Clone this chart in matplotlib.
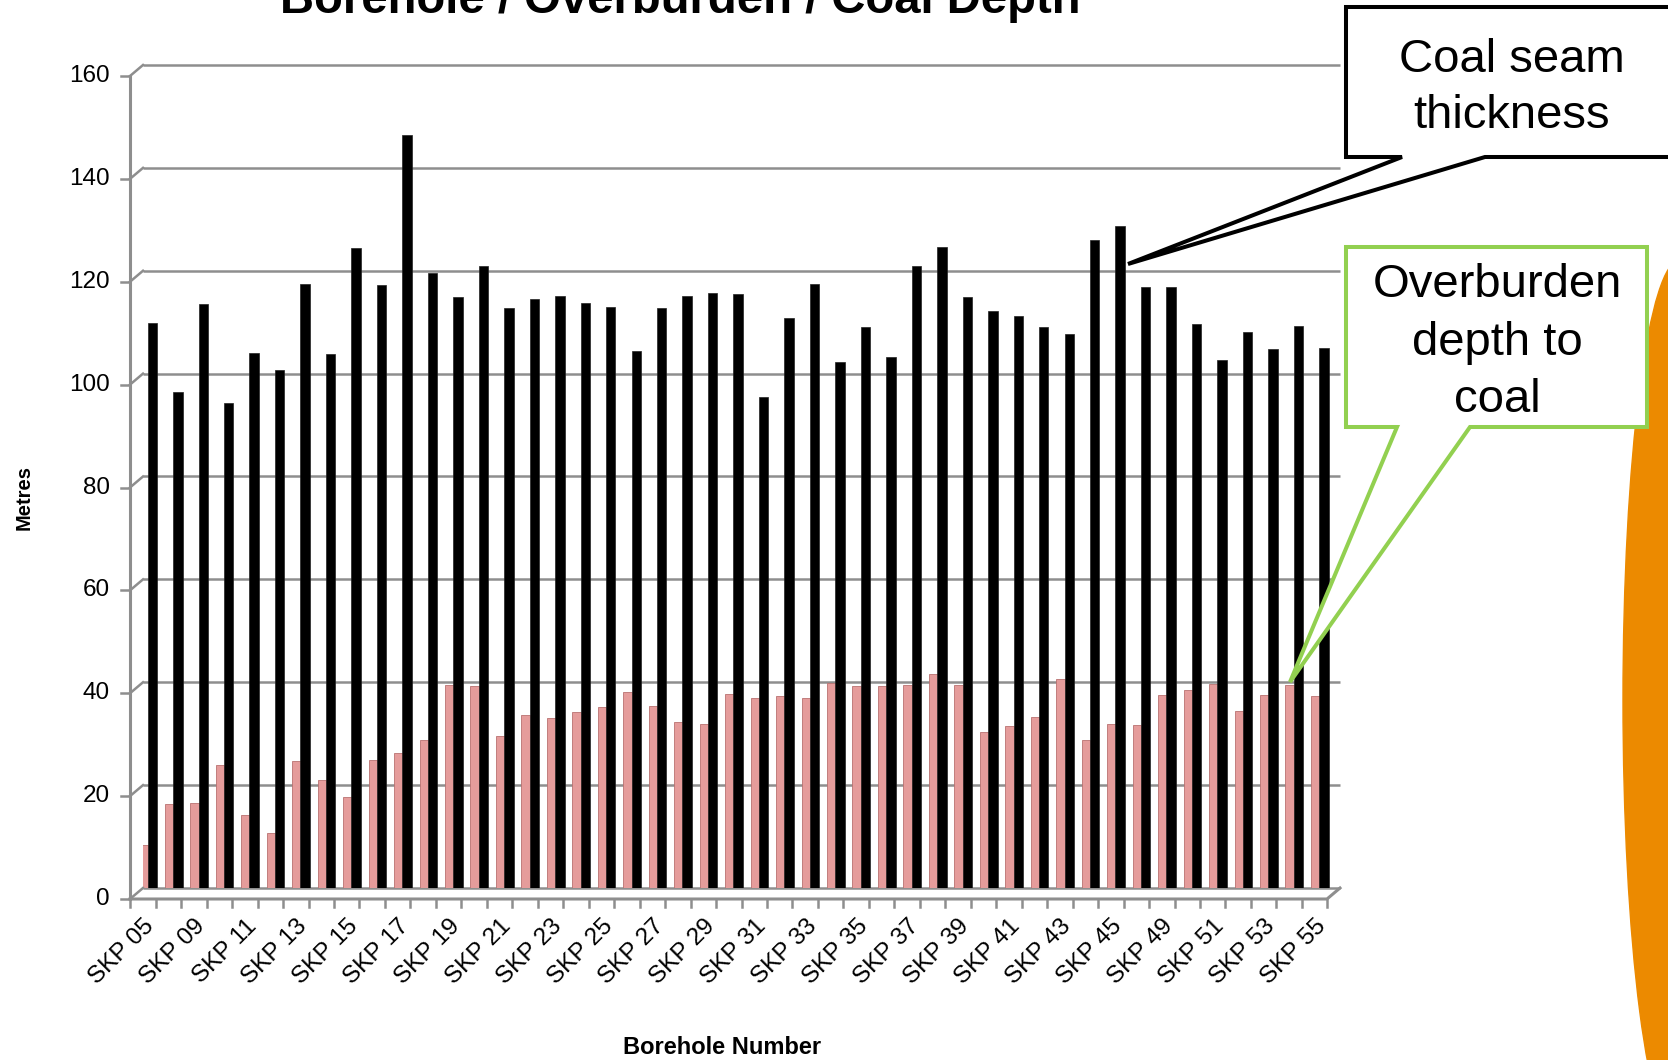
import numpy as np
import matplotlib
matplotlib.use("Agg")
import matplotlib.pyplot as plt
from matplotlib.patches import Polygon, Ellipse

plt.rcParams['font.family'] = ['Liberation Sans', 'DejaVu Sans']

# borehole data (metres)
boreholes = ["SKP 05", "SKP 07", "SKP 09", "SKP 10", "SKP 11", "SKP 12", "SKP 13", "SKP 14",
             "SKP 15", "SKP 16", "SKP 17", "SKP 18", "SKP 19", "SKP 20", "SKP 21", "SKP 22",
             "SKP 23", "SKP 24", "SKP 25", "SKP 26", "SKP 27", "SKP 28", "SKP 29", "SKP 30",
             "SKP 31", "SKP 32", "SKP 33", "SKP 34", "SKP 35", "SKP 36", "SKP 37", "SKP 38",
             "SKP 39", "SKP 40", "SKP 41", "SKP 42", "SKP 43", "SKP 44", "SKP 45", "SKP 47",
             "SKP 49", "SKP 50", "SKP 51", "SKP 52", "SKP 53", "SKP 54", "SKP 55"]

overburden = [8.3, 16.4, 16.6, 23.9, 14.2, 10.6, 24.7, 21.0, 17.7, 24.9,
              26.3, 28.7, 39.4, 39.3, 29.5, 33.7, 33.1, 34.3, 35.2, 38.2,
              35.3, 32.3, 31.9, 37.7, 36.9, 37.4, 36.9, 39.9, 39.3, 39.2,
              39.4, 41.6, 39.4, 30.4, 31.4, 33.3, 40.6, 28.7, 31.8, 31.6,
              37.5, 38.5, 39.7, 34.4, 37.5, 39.4, 37.4]

coal_depth = [109.9, 96.4, 113.6, 94.3, 104.0, 100.8, 117.5, 103.9, 124.5, 117.2,
              146.4, 119.5, 114.9, 120.9, 112.7, 114.5, 115.1, 113.8, 112.9, 104.4,
              112.7, 115.1, 115.6, 115.4, 95.4, 110.8, 117.5, 102.2, 109.1, 103.2,
              120.9, 124.7, 114.8, 112.1, 111.3, 109.0, 107.7, 126.0, 128.7, 116.8,
              116.8, 109.7, 102.6, 108.1, 104.7, 109.2, 104.9]

yticks = list(range(0, 161, 20))

W, H = 1668, 1060
grey = '#8E8E8E'
pink = '#E59C9B'

fig = plt.figure(figsize=(W / 100, H / 100), dpi=100)
ax = fig.add_axes([143 / W, (H - 888) / H, (1340 - 143) / W, (888 - 65) / H])
ax.set_ylim(0, 160)
ax.set_xlim(-0.196, 46.8)
for s in ax.spines.values():
    s.set_visible(False)
ax.set_xticks([])
ax.set_yticks([])

x = np.arange(len(boreholes))
xl = ax.get_xlim()
ax.hlines(yticks, xl[0], xl[1], colors=grey, lw=1.8, clip_on=False, zorder=1)
ax.bar(x - 0.17, overburden, width=0.34, color=pink, edgecolor='#B97170', lw=0.6, zorder=3)
ax.bar(x + 0.17, coal_depth, width=0.37, color='black', edgecolor='#222222', lw=0.5, zorder=3)

# overlay in pixel coordinates (y down) for the front frame, labels and callouts
ov = fig.add_axes([0, 0, 1, 1], zorder=5)
ov.set_xlim(0, W)
ov.set_ylim(H, 0)
ov.axis('off')
ov.patch.set_alpha(0)


def to_px(xv, yv):
    px, py = ax.transData.transform((xv, yv))
    return px, H - py


DX, DY = -13, 11

# front y axis with depth connectors
fx0, fy0 = to_px(xl[0], 0)
fx1, fy1 = to_px(xl[0], 160)
ov.plot([fx0 + DX, fx1 + DX], [fy0 + DY, fy1 + DY], color=grey, lw=2.2)
for v in yticks:
    bx, by = to_px(xl[0], v)
    ov.plot([bx + DX, bx], [by + DY, by], color=grey, lw=1.8)
    ov.plot([bx + DX - 9, bx + DX], [by + DY, by + DY], color=grey, lw=1.8)
    ov.text(bx + DX - 20, by + DY, str(v), ha='right', va='center', fontsize=17.5)

# front floor line
rx, ry = to_px(xl[1], 0)
ov.plot([fx0 + DX, rx + DX, rx], [fy0 + DY, ry + DY, ry], color=grey, lw=2.2)
for k in range(len(boreholes) + 1):
    tx, ty = to_px(k - 0.5, 0)
    tx = max(tx - 5, fx0 + DX)
    ov.plot([tx, tx], [ty + DY, ty + DY + 8], color=grey, lw=1.8)
for k in range(0, len(boreholes), 2):
    lx, ly = to_px(k, 0)
    ov.text(lx + 3, 923, boreholes[k], rotation=45, rotation_mode='anchor',
            ha='right', va='center', fontsize=17.5)

fig.text(680 / W, 1 - 13 / H, "Borehole / Overburden / Coal Depth", ha='center',
         va='baseline', fontsize=34, fontweight='bold')
ov.text(24, 498, "Metres", rotation=90, ha='center', va='center', fontsize=14.5, fontweight='bold')
ov.text(722, 1054, "Borehole Number", ha='center', va='baseline', fontsize=17, fontweight='bold')

# orange shape at the right edge
ov.add_patch(Ellipse((1680, 700), 114, 880, color='#EC8A00', zorder=1))

# callouts
coal_box = [(1346, 7), (1690, 7), (1690, 157), (1485, 157), (1128, 264), (1402, 157), (1346, 157)]
ov.add_patch(Polygon(coal_box, closed=True, facecolor='white', edgecolor='black',
                     lw=2.9, joinstyle='miter', zorder=6))
for txt, yb in [("Coal seam", 72), ("thickness", 128)]:
    ov.text(1512, yb, txt, ha='center', va='baseline', fontsize=34, zorder=7)

ob_box = [(1346, 247), (1647, 247), (1647, 427), (1470, 427), (1290, 682), (1397, 427), (1346, 427)]
ov.add_patch(Polygon(ob_box, closed=True, facecolor='white', edgecolor='#92D050',
                     lw=2.9, joinstyle='miter', zorder=6))
for txt, yb in [("Overburden", 297), ("depth to", 355), ("coal", 412)]:
    ov.text(1497, yb, txt, ha='center', va='baseline', fontsize=34, zorder=7)

fig.savefig("out.png", dpi=100)
